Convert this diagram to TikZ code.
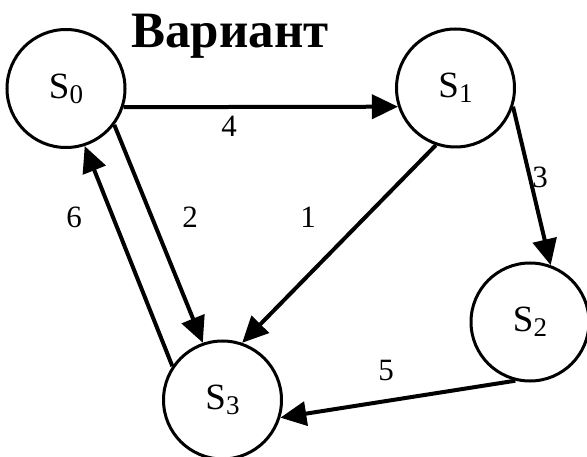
\documentclass[tikz,border=0pt]{standalone}
\usepackage{fontspec}
\setmainfont{Liberation Serif}
\newfontfamily\timesfont{Liberation Serif}
\usetikzlibrary{arrows.meta}
\tikzset{
  state/.style={draw, line width=3pt, circle, minimum size=118pt, inner sep=0pt, font=\timesfont\fontsize{37}{37}\selectfont},
  edge/.style={line width=4pt, -{Triangle[length=26pt,width=24pt]}},
  elabel/.style={font=\timesfont\fontsize{31}{31}\selectfont, inner sep=0pt},
}
\newcommand{\st}[1]{S\raisebox{-5pt}{\fontsize{27}{27}\selectfont #1}}
\begin{document}
\begin{tikzpicture}[x=1pt,y=-1pt]
\useasboundingbox (0,0) rectangle (587,457);
\node[anchor=base, inner sep=0pt, font=\timesfont\fontsize{51}{51}\selectfont\bfseries] (title) at (230,48) {Вариант};
\node[state] (S0) at (66,88.5) {\st{0}};
\node[state] (S1) at (455.5,88) {\st{1}};
\node[state] (S2) at (530,322) {\st{2}};
\node[state] (S3) at (222.5,400) {\st{3}};
\draw[edge] (S0.-18) -- (S1.198);
\draw[edge] (S1.-18) -- (S2.70);
\draw[edge] (S1.251) -- (S3.71);
\draw[edge] (S0.-37) -- (S3.109);
\draw[edge] (S3.146) -- (S0.-72);
\draw[edge] (S2.-104) -- (S3.-17);
\node[elabel] (l4) at (229,126) {4};
\node[elabel] (l3) at (540,177) {3};
\node[elabel] (l1) at (308,217) {1};
\node[elabel] (l2) at (190,217) {2};
\node[elabel] (l6) at (74,217) {6};
\node[elabel] (l5) at (386,371) {5};
\end{tikzpicture}
\end{document}
